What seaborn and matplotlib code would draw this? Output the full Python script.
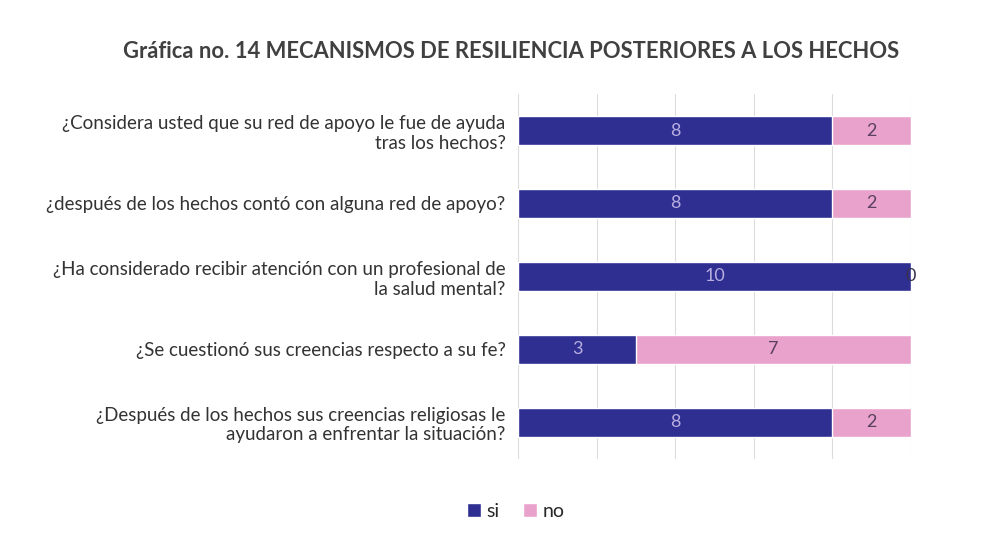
import matplotlib
matplotlib.use("Agg")
import matplotlib.pyplot as plt
import seaborn as sns
import pandas as pd
from matplotlib.patches import Patch

# Data
preguntas = [
    "¿Considera usted que su red de apoyo le fue de ayuda\ntras los hechos?",
    "¿después de los hechos contó con alguna red de apoyo?",
    "¿Ha considerado recibir atención con un profesional de\nla salud mental?",
    "¿Se cuestionó sus creencias respecto a su fe?",
    "¿Después de los hechos sus creencias religiosas le\nayudaron a enfrentar la situación?",
]
si = [8, 8, 10, 3, 8]
no = [2, 2, 0, 7, 2]

navy = "#2F2F92"
pink = "#E9A2CC"

df = pd.DataFrame({"pregunta": preguntas, "si": si, "no": no})
df["total"] = df["si"] + df["no"]

sns.set_style("white")
plt.rcParams["font.family"] = ["Lato", "DejaVu Sans"]

fig = plt.figure(figsize=(10.02, 5.44), dpi=100)
ax = fig.add_axes([0.517, 0.157, 0.392, 0.67])

# stacked bars: total in pink underneath, "si" in navy on top
sns.barplot(data=df, y="pregunta", x="total", color=pink, width=0.4,
            orient="h", ax=ax, saturation=1)
sns.barplot(data=df, y="pregunta", x="si", color=navy, width=0.4,
            orient="h", ax=ax, saturation=1)

# value labels
for i, row in df.iterrows():
    ax.text(row["si"] / 2, i, str(row["si"]), ha="center", va="center",
            color="#B8AEE0", fontsize=13)
    if row["no"] > 0:
        ax.text(row["si"] + row["no"] / 2, i, str(row["no"]), ha="center",
                va="center", color="#5A4060", fontsize=13)
    else:
        ax.text(row["si"], i, "0", ha="center", va="center",
                color="#3A3050", fontsize=13)

ax.set_xlim(0, 10)
ax.set_ylim(4.5, -0.5)
ax.set_xticks([0, 2, 4, 6, 8, 10])
ax.set_xticklabels([])
ax.grid(axis="x", color="#DCDCDC", linewidth=0.8)
ax.set_axisbelow(True)
for s in ax.spines.values():
    s.set_visible(False)
ax.set_xlabel("")
ax.set_ylabel("")
ax.tick_params(axis="y", length=0, pad=9)
for lbl in ax.get_yticklabels():
    lbl.set_fontsize(13.5)
    lbl.set_color("#333333")
    lbl.set_horizontalalignment("right")
    lbl.set_multialignment("right")

fig.text(0.51, 0.905, "Gráfica no. 14 MECANISMOS DE RESILIENCIA POSTERIORES A LOS HECHOS",
         ha="center", va="center", fontsize=15.8, fontweight="bold", color="#404040")

handles = [Patch(facecolor=navy, label="si"), Patch(facecolor=pink, label="no")]
fig.legend(handles=handles, loc="center", bbox_to_anchor=(0.515, 0.06), ncol=2,
           frameon=False, fontsize=14, handlelength=0.7, handleheight=0.7,
           handletextpad=0.3, columnspacing=1.2)

fig.savefig("out.png", dpi=100, facecolor="white")
